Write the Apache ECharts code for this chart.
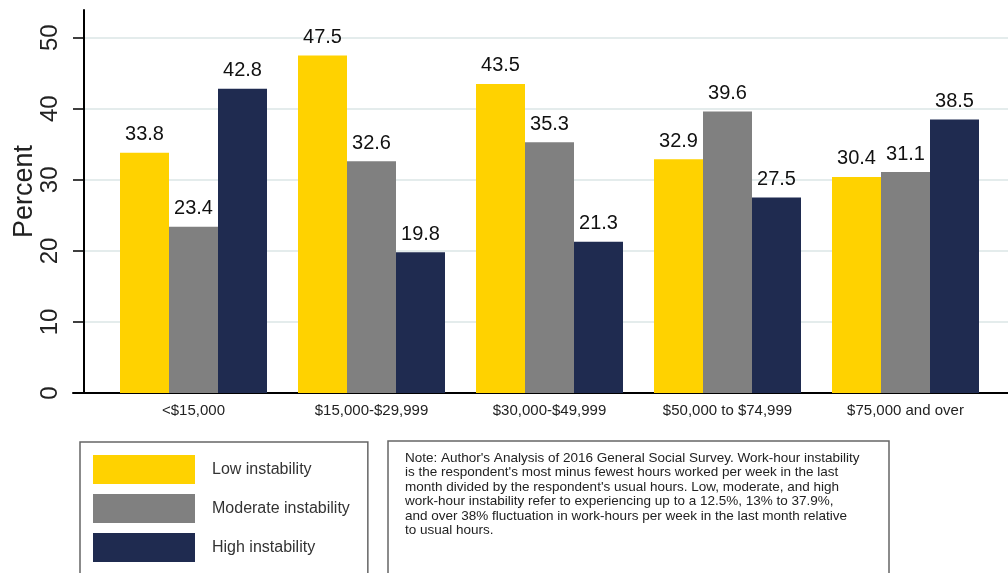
<!DOCTYPE html>
<html>
<head>
<meta charset="utf-8">
<script src="https://cdn.jsdelivr.net/npm/echarts@6/dist/echarts.min.js"></script>
<style>
html,body{margin:0;padding:0;background:#fff;}
#chart{width:1008px;height:573px;}
</style>
</head>
<body>
<div id="chart"></div>
<script>
const categories = ['<$15,000', '$15,000-$29,999', '$30,000-$49,999', '$50,000 to $74,999', '$75,000 and over'];
const lowInstability = [33.8, 47.5, 43.5, 32.9, 30.4];
const moderateInstability = [23.4, 32.6, 35.3, 39.6, 31.1];
const highInstability = [42.8, 19.8, 21.3, 27.5, 38.5];
const seriesNames = ['Low instability', 'Moderate instability', 'High instability'];
const yTicks = { min: 0, max: 50, interval: 10 };
const noteText = "Note: Author's Analysis of 2016 General Social Survey. Work-hour instability\n" +
  "is the respondent's most minus fewest hours worked per week in the last\n" +
  "month divided by the respondent's usual hours. Low, moderate, and high\n" +
  "work-hour instability refer to experiencing up to a 12.5%, 13% to 37.9%,\n" +
  "and over 38% fluctuation in work-hours per week in the last month relative\n" +
  "to usual hours.";

const FONT = 'Liberation Sans, Arial, sans-serif';
const colors = ['#FFD200', '#808080', '#1F2B50'];

const chart = echarts.init(document.getElementById('chart'), null, { renderer: 'canvas' });

function barSeries(name, data, color) {
  return {
    name: name, type: 'bar', data: data, xAxisIndex: 0, yAxisIndex: 0,
    barWidth: 49, barGap: '0%',
    itemStyle: { color: color },
    label: { show: true, position: 'top', distance: 8, fontSize: 20, color: '#111', fontFamily: FONT },
    emphasis: { disabled: true }
  };
}

function frameGrid(left, top) {
  return { left: left, right: 0, top: top, bottom: 180, outerBoundsMode: 'none', containLabel: false };
}

chart.setOption({
  animation: false,
  textStyle: { fontFamily: FONT },
  title: {
    text: noteText,
    left: 388, top: 441,
    padding: [10, 30, 60, 17],
    borderColor: '#666', borderWidth: 1.5,
    textStyle: { fontSize: 13.5, fontWeight: 'normal', color: '#222', lineHeight: 14.4, fontFamily: FONT }
  },
  legend: {
    data: seriesNames,
    orient: 'vertical',
    left: 80, top: 442,
    height: 300,
    padding: [13, 18, 13, 13],
    itemWidth: 102, itemHeight: 29, itemGap: 10,
    icon: 'rect',
    borderColor: '#666', borderWidth: 1.5,
    selectedMode: false,
    textStyle: { fontSize: 16, color: '#333', padding: [0, 0, 0, 12], fontFamily: FONT }
  },
  grid: [
    { left: 104.5, right: 13.5, top: 37.7, bottom: 180, outerBoundsMode: 'none', containLabel: false },
    frameGrid(84, 37.7),
    frameGrid(84, 10),
    frameGrid(73, 10)
  ],
  xAxis: [
    { type: 'category', gridIndex: 0, data: categories,
      axisLine: { show: false }, axisTick: { show: false },
      axisLabel: { interval: 0, margin: 10, fontSize: 15, color: '#222', fontFamily: FONT } },
    { type: 'value', gridIndex: 1, show: false, min: 0, max: 1 },
    { type: 'value', gridIndex: 2, show: false, min: 0, max: 1 },
    { type: 'value', gridIndex: 3, min: 0, max: 1,
      axisLine: { show: true, lineStyle: { color: '#000', width: 2 } },
      axisTick: { show: false }, axisLabel: { show: false }, splitLine: { show: false } }
  ],
  yAxis: [
    { type: 'value', gridIndex: 0, min: yTicks.min, max: yTicks.max, interval: yTicks.interval, show: false },
    { type: 'value', gridIndex: 1, min: yTicks.min, max: yTicks.max, interval: yTicks.interval,
      axisLine: { show: false },
      axisTick: { show: true, length: 11, lineStyle: { color: '#000', width: 1.5 } },
      axisLabel: { rotate: 90, fontSize: 24, color: '#222', margin: 22, fontFamily: FONT },
      splitLine: { show: true, showMinLine: false, lineStyle: { color: '#E4ECEC', width: 2 } } },
    { type: 'value', gridIndex: 2, min: 0, max: 1,
      axisLine: { show: true, lineStyle: { color: '#000', width: 2 } },
      axisTick: { show: false }, axisLabel: { show: false }, splitLine: { show: false },
      name: 'Percent', nameLocation: 'middle', nameGap: 46,
      nameTextStyle: { fontSize: 27, color: '#222', fontFamily: FONT, padding: [0, 0, 0, 20] } },
    { type: 'value', gridIndex: 3, show: false, min: 0, max: 1 }
  ],
  series: [
    barSeries(seriesNames[0], lowInstability, colors[0]),
    barSeries(seriesNames[1], moderateInstability, colors[1]),
    barSeries(seriesNames[2], highInstability, colors[2])
  ]
});
</script>
</body>
</html>
